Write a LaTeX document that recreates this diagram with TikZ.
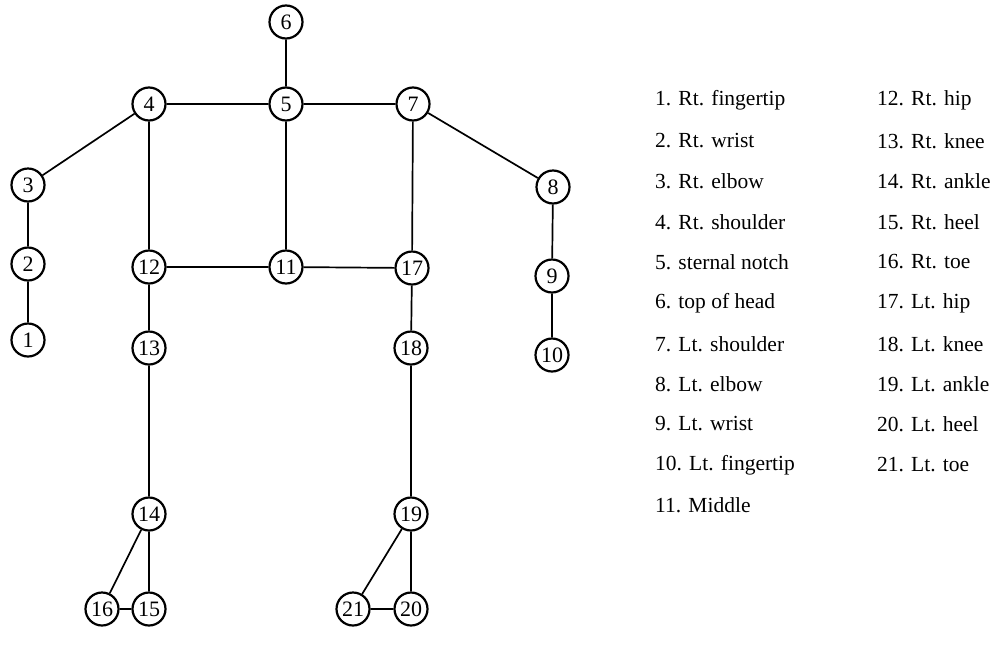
\documentclass[tikz,border=0pt]{standalone}
\usepackage{fontspec}
\setmainfont{Liberation Serif}
\begin{document}
\begin{tikzpicture}[x=1pt,y=-1pt,
  jnt/.style={circle,draw,line width=2.2pt,minimum size=33pt,inner sep=0pt,font=\fontsize{22}{22}\selectfont},
  bone/.style={line width=1.7pt},
  leg/.style={anchor=west,font=\fontsize{21.5}{21.5}\selectfont,inner sep=0pt}]
\useasboundingbox (0,0) rectangle (1008,659);
\node[jnt] (n6) at (286,22) {6};
\node[jnt] (n4) at (149,104) {4};
\node[jnt] (n5) at (286,104) {5};
\node[jnt] (n7) at (413,104) {7};
\node[jnt] (n3) at (28,185) {3};
\node[jnt] (n8) at (553,187) {8};
\node[jnt] (n12) at (149,267) {12};
\node[jnt] (n11) at (286,267) {11};
\node[jnt] (n17) at (412,268) {17};
\node[jnt] (n2) at (28,264) {2};
\node[jnt] (n9) at (552,276) {9};
\node[jnt] (n1) at (28,340) {1};
\node[jnt] (n10) at (552,355) {10};
\node[jnt] (n13) at (149,348) {13};
\node[jnt] (n18) at (411,348) {18};
\node[jnt] (n14) at (149,514) {14};
\node[jnt] (n19) at (411,514) {19};
\node[jnt] (n16) at (102,609) {16};
\node[jnt] (n15) at (149,609) {15};
\node[jnt] (n21) at (353,609) {21};
\node[jnt] (n20) at (411,609) {20};
\draw[bone] (n6)--(n5) (n4)--(n5) (n5)--(n7) (n4)--(n3) (n3)--(n2) (n2)--(n1)
  (n7)--(n8) (n8)--(n9) (n9)--(n10) (n4)--(n12) (n5)--(n11) (n7)--(n17)
  (n12)--(n11) (n11)--(n17) (n12)--(n13) (n13)--(n14) (n14)--(n15) (n14)--(n16)
  (n16)--(n15) (n17)--(n18) (n18)--(n19) (n19)--(n20) (n19)--(n21) (n21)--(n20);
\node[leg] (l1) at (655,100) {1. Rt. fingertip};
\node[leg] (l2) at (655,141) {2. Rt. wrist};
\node[leg] (l3) at (655,181) {3. Rt. elbow};
\node[leg] (l4) at (655,222) {4. Rt. shoulder};
\node[leg] (l5) at (655,262) {5. sternal notch};
\node[leg] (l6) at (655,303) {6. top of head};
\node[leg] (l7) at (655,344) {7. Lt. shoulder};
\node[leg] (l8) at (655,384) {8. Lt. elbow};
\node[leg] (l9) at (655,424) {9. Lt. wrist};
\node[leg] (l10) at (655,465) {10. Lt. fingertip};
\node[leg] (l11) at (655,505) {11. Middle};
\node[leg] (l12) at (877,100) {12. Rt. hip};
\node[leg] (l13) at (877,141) {13. Rt. knee};
\node[leg] (l14) at (877,181) {14. Rt. ankle};
\node[leg] (l15) at (877,222) {15. Rt. heel};
\node[leg] (l16) at (877,262) {16. Rt. toe};
\node[leg] (l17) at (877,303) {17. Lt. hip};
\node[leg] (l18) at (877,344) {18. Lt. knee};
\node[leg] (l19) at (877,384) {19. Lt. ankle};
\node[leg] (l20) at (877,424) {20. Lt. heel};
\node[leg] (l21) at (877,465) {21. Lt. toe};
\end{tikzpicture}
\end{document}
